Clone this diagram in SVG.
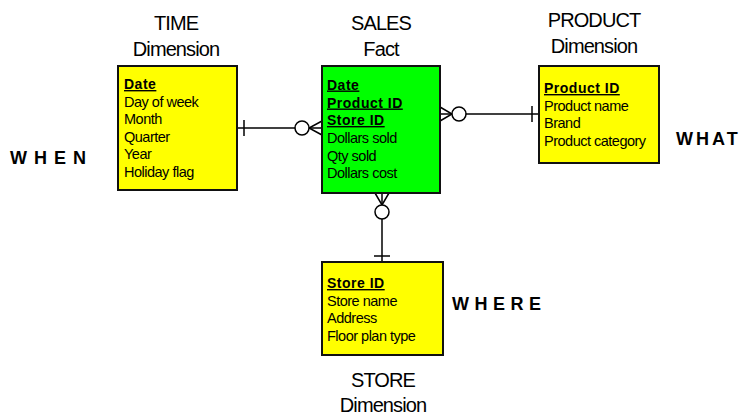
<svg xmlns="http://www.w3.org/2000/svg" width="753" height="416" viewBox="0 0 753 416">
  <style>
    .box { stroke: #111; stroke-width: 2; }
    .dim { fill: #ffff00; }
    .fact { fill: #00ff00; }
    .attr { font-family: "Liberation Sans", Arial, sans-serif; font-size: 14.5px; letter-spacing: -0.5px; fill: #000; }
    .key { font-family: "Liberation Sans", Arial, sans-serif; font-size: 14px; font-weight: bold; letter-spacing: 0.5px; fill: #000; text-decoration: underline; }
    .title { font-family: "Liberation Sans", Arial, sans-serif; font-size: 20px; letter-spacing: -0.9px; fill: #000; text-anchor: middle; }
    .tag { font-family: "Liberation Sans", Arial, sans-serif; font-size: 18px; font-weight: bold; fill: #000; }
    .conn { stroke: #000; stroke-width: 1.5; fill: none; }
    .ring { stroke: #000; stroke-width: 1.5; fill: #fff; }
  </style>

  <!-- connectors: one-and-only-one at dimension, zero-or-many at fact -->
  <g id="connectors">
    <!-- TIME to SALES -->
    <line class="conn" x1="237" y1="128" x2="322" y2="128"/>
    <line class="conn" x1="244" y1="120" x2="244" y2="136"/>
    <path class="conn" d="M322,121 L309,128 L322,135"/>
    <circle class="ring" cx="302" cy="128" r="7"/>
    <!-- SALES to PRODUCT -->
    <line class="conn" x1="440" y1="114" x2="539" y2="114"/>
    <line class="conn" x1="532" y1="106" x2="532" y2="122"/>
    <path class="conn" d="M440,107 L452,114 L440,121"/>
    <circle class="ring" cx="459" cy="114" r="7"/>
    <!-- SALES to STORE -->
    <line class="conn" x1="382" y1="193" x2="382" y2="262"/>
    <line class="conn" x1="374" y1="256" x2="390" y2="256"/>
    <path class="conn" d="M375,193 L382,205 L389,193"/>
    <circle class="ring" cx="382" cy="212" r="7"/>
  </g>

  <g id="time">
    <text class="title" x="176" y="30">TIME</text>
    <text class="title" x="176" y="56">Dimension</text>
    <rect class="box dim" x="118" y="66" width="119" height="124"/>
    <text class="key" x="124" y="89">Date</text>
    <text class="attr" x="124" y="106.5">Day of week</text>
    <text class="attr" x="124" y="124">Month</text>
    <text class="attr" x="124" y="141.5">Quarter</text>
    <text class="attr" x="124" y="159">Year</text>
    <text class="attr" x="124" y="176.5">Holiday flag</text>
  </g>

  <g id="sales">
    <text class="title" x="381" y="30">SALES</text>
    <text class="title" x="381" y="56">Fact</text>
    <rect class="box fact" x="322" y="66" width="118" height="127"/>
    <text class="key" x="327" y="89.5">Date</text>
    <text class="key" x="327" y="107.5">Product ID</text>
    <text class="key" x="327" y="125">Store ID</text>
    <text class="attr" x="327" y="143">Dollars sold</text>
    <text class="attr" x="327" y="160.5">Qty sold</text>
    <text class="attr" x="327" y="178">Dollars cost</text>
  </g>

  <g id="product">
    <text class="title" x="594" y="27">PRODUCT</text>
    <text class="title" x="594" y="53">Dimension</text>
    <rect class="box dim" x="539" y="66" width="120" height="97"/>
    <text class="key" x="544" y="93">Product ID</text>
    <text class="attr" x="544" y="110.5">Product name</text>
    <text class="attr" x="544" y="128">Brand</text>
    <text class="attr" x="544" y="145.5">Product category</text>
  </g>

  <g id="store">
    <rect class="box dim" x="322" y="262" width="121" height="93"/>
    <text class="key" x="327" y="288">Store ID</text>
    <text class="attr" x="327" y="305.5">Store name</text>
    <text class="attr" x="327" y="323">Address</text>
    <text class="attr" x="327" y="340.5">Floor plan type</text>
    <text class="title" x="383" y="387">STORE</text>
    <text class="title" x="383" y="412">Dimension</text>
  </g>

  <g id="labels">
    <text class="tag" x="10" y="164" letter-spacing="7">WHEN</text>
    <text class="tag" x="676" y="145" letter-spacing="3">WHAT</text>
    <text class="tag" x="452" y="310" letter-spacing="5.5">WHERE</text>
  </g>
</svg>
